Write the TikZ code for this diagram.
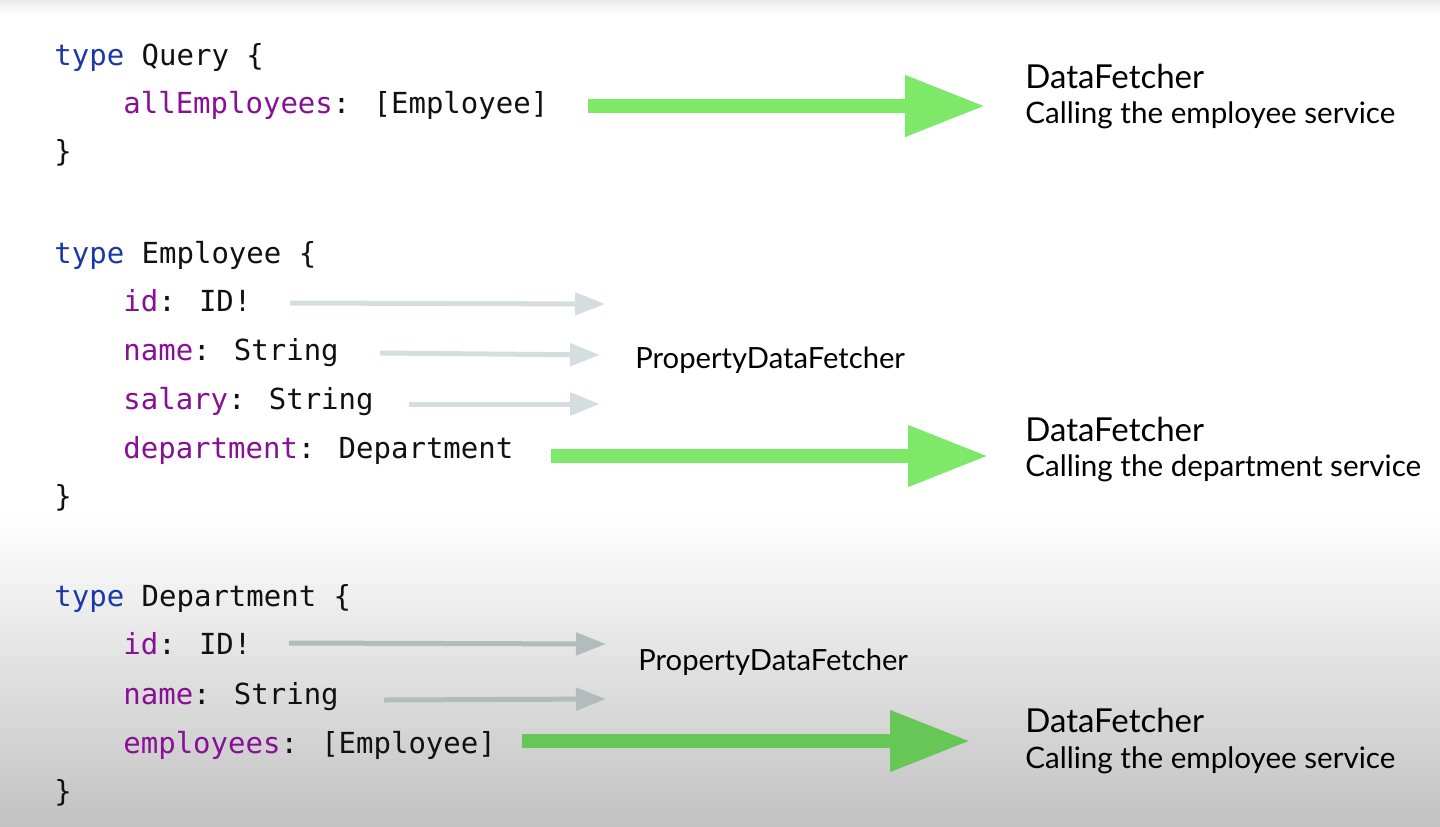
\documentclass[tikz,border=0pt]{standalone}
\usepackage{fontspec}
\setmainfont{Lato}
\newfontfamily\codefont{DejaVu Sans Mono}
\usetikzlibrary{arrows.meta}
\definecolor{kw}{HTML}{1C38A6}
\definecolor{fld}{HTML}{871094}
\definecolor{txt}{HTML}{111111}
\definecolor{greenA}{HTML}{7EE968}
\definecolor{greenC}{HTML}{66C757}
\definecolor{grayA}{HTML}{D4DEDE}
\definecolor{grayB}{HTML}{B3BCBC}
\definecolor{bggray}{HTML}{C2C2C2}
\definecolor{topgray}{HTML}{EBEBEB}
\tikzset{
  code/.style={font=\codefont\fontsize{14.5}{17}\selectfont, anchor=base west, inner sep=0pt, text=txt},
  dftitle/.style={font=\fontsize{16.5}{19}\selectfont, anchor=base west, inner sep=0pt, text=black},
  dfnote/.style={font=\fontsize{14.8}{17}\selectfont, anchor=base west, inner sep=0pt, text=black},
  propnote/.style={font=\fontsize{14.6}{17}\selectfont, anchor=base west, inner sep=0pt, text=black},
  bigarrow/.style={line width=7pt, -{Triangle[length=40pt,width=29pt]}},
  thinarrow/.style={line width=2.5pt, -{Triangle[length=15pt,width=11pt]}}
}
\newcommand{\kwd}[1]{\textcolor{kw}{#1}}
\newcommand{\fldn}[1]{\textcolor{fld}{#1}}
\begin{document}
\begin{tikzpicture}[x=0.5pt,y=-0.5pt]
\useasboundingbox (0,0) rectangle (1440,826);
\fill[white] (0,0) rectangle (1440,826);
\shade[top color=white,bottom color=bggray] (0,515) rectangle (1440,826);
\shade[top color=topgray,bottom color=white] (0,0) rectangle (1440,14);

% Query block
\node[code] (q1) at (54,65) {\kwd{type} Query \{};
\node[code] (q2) at (123,113) {\fldn{allEmployees}: [Employee]};
\node[code] (q3) at (54,161) {\}};

% Employee block
\node[code] (e1) at (54,263) {\kwd{type} Employee \{};
\node[code] (e2) at (123,311) {\fldn{id}: ID!};
\node[code] (e3) at (123,360) {\fldn{name}: String};
\node[code] (e4) at (123,409) {\fldn{salary}: String};
\node[code] (e5) at (123,458) {\fldn{department}: Department};
\node[code] (e6) at (54,506) {\}};

% Department block
\node[code] (d1) at (54,606) {\kwd{type} Department \{};
\node[code] (d2) at (123,654) {\fldn{id}: ID!};
\node[code] (d3) at (123,704) {\fldn{name}: String};
\node[code] (d4) at (123,753) {\fldn{employees}: [Employee]};
\node[code] (d5) at (54,801) {\}};

% right-hand labels
\node[dftitle] (df1) at (1025,88) {DataFetcher};
\node[dfnote] (c1) at (1025,123) {Calling the employee service};
\node[dftitle] (df2) at (1025,441) {DataFetcher};
\node[dfnote] (c2) at (1025,476) {Calling the department service};
\node[dftitle] (df3) at (1025,732) {DataFetcher};
\node[dfnote] (c3) at (1025,768) {Calling the employee service};
\node[propnote] (p1) at (635,368) {PropertyDataFetcher};
\node[propnote] (p2) at (638,670) {PropertyDataFetcher};

% arrow end points
\coordinate (a1s) at (588,106); \coordinate (a1e) at (985,106);
\coordinate (a2s) at (551,456); \coordinate (a2e) at (988,456);
\coordinate (a3s) at (522,741); \coordinate (a3e) at (970,741);
\coordinate (g1s) at (290,303); \coordinate (g1e) at (605,304);
\coordinate (g2s) at (380,353); \coordinate (g2e) at (600,355);
\coordinate (g3s) at (409,404); \coordinate (g3e) at (600,404);
\coordinate (g4s) at (289,643); \coordinate (g4e) at (606,644);
\coordinate (g5s) at (384,700); \coordinate (g5e) at (606,699);

\draw[bigarrow,draw=greenA,fill=greenA] (a1s) -- (a1e);
\draw[bigarrow,draw=greenA,fill=greenA] (a2s) -- (a2e);
\draw[bigarrow,draw=greenC,fill=greenC] (a3s) -- (a3e);
\draw[thinarrow,draw=grayA,fill=grayA] (g1s) -- (g1e);
\draw[thinarrow,draw=grayA,fill=grayA] (g2s) -- (g2e);
\draw[thinarrow,draw=grayA,fill=grayA] (g3s) -- (g3e);
\draw[thinarrow,draw=grayB,fill=grayB] (g4s) -- (g4e);
\draw[thinarrow,draw=grayB,fill=grayB] (g5s) -- (g5e);
\end{tikzpicture}
\end{document}
